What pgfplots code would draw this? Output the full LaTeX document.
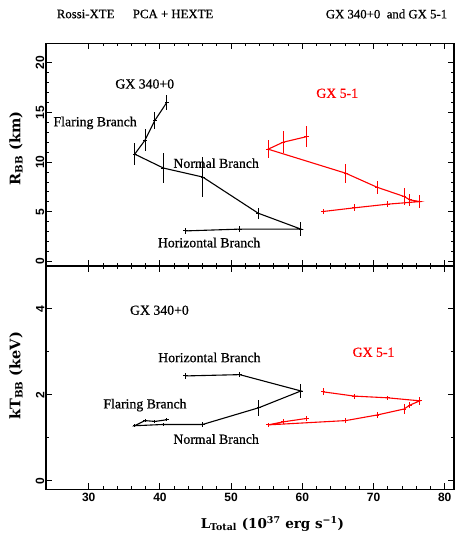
\documentclass[border=0pt]{standalone}
\usepackage{fontspec}
\setmainfont{Liberation Serif}[FakeBold=0.6]
\newfontfamily\tickfont{Liberation Sans}
\newfontfamily\axlabfont{DejaVu Serif}
\usepackage{pgfplots}
\pgfplotsset{compat=1.18}
\usepackage{pgfplotstable}

\pgfplotstableread{
x y ex ey
40.96 16.0 0.3 0.75
39.3 14.2 0.3 0.84
37.9 12.2 0.3 1.1
36.46 10.8 0.3 1.14
40.5 9.4 0.3 1.47
46.0 8.5 0.3 2.0
53.8 4.86 0.3 0.55
59.8 3.26 0.3 0.7
51.2 3.26 0.3 0.3
43.6 3.08 0.3 0.3
}\gxAup
\pgfplotstableread{
x y ex ey
60.6 12.56 0.3 1.04
57.3 12.0 0.3 1.1
55.2 11.3 0.3 0.9
66.1 8.88 0.3 0.97
70.5 7.47 0.3 0.67
74.3 6.54 0.3 0.87
75.1 6.2 0.3 0.57
76.5 6.03 0.3 0.67
72.0 5.77 0.3 0.3
67.3 5.4 0.3 0.35
62.9 5.03 0.3 0.3
}\gxBup
\pgfplotstableread{
x y ex ey
40.96 1.42 0.3 0.04
39.3 1.38 0.3 0.04
37.9 1.40 0.3 0.04
36.46 1.28 0.3 0.04
40.5 1.31 0.3 0.04
46.0 1.31 0.3 0.05
53.9 1.70 0.3 0.19
59.8 2.09 0.3 0.17
51.2 2.47 0.3 0.06
43.6 2.44 0.3 0.07
}\gxAlo
\pgfplotstableread{
x y ex ey
60.6 1.45 0.3 0.06
57.3 1.37 0.3 0.06
55.2 1.30 0.3 0.05
66.1 1.40 0.3 0.05
70.5 1.53 0.3 0.07
74.3 1.67 0.3 0.12
75.1 1.76 0.3 0.07
76.5 1.86 0.3 0.1
72.0 1.93 0.3 0.05
67.3 1.97 0.3 0.06
62.9 2.07 0.3 0.08
}\gxBlo

\pgfplotsset{
  myaxis/.style={
    scale only axis, width=408pt,
    xmin=24, xmax=81.3,
    xtick={30,40,...,80}, minor x tick num=4,
    tick align=inside,
    major tick length=6pt, minor tick length=3pt,
    axis line style={line width=1.3pt},
    tick style={line width=0.9pt, black},
    tick label style={font=\tickfont\bfseries\fontsize{12}{13}\selectfont},
    /pgf/number format/assume math mode=true,
    yticklabel style={rotate=90, anchor=south, inner sep=1.5pt},
    ylabel style={anchor=center, font=\axlabfont\bfseries\fontsize{14.5}{16}\selectfont},
  },
  eb/.style={line width=1.1pt, mark=none,
    error bars/x dir=both, error bars/x explicit,
    error bars/y dir=both, error bars/y explicit,
    error bars/error mark=none,
    error bars/error bar style={line width=0.9pt}},
}
\tikzset{lab/.style={font=\fontsize{13.8}{16}\selectfont}}

\begin{document}
\begin{tikzpicture}
\useasboundingbox (0pt,0pt) rectangle (457pt,536pt);

\node[anchor=west, font=\fontsize{12.8}{14}\selectfont] at (53.3pt,522pt) {Rossi-XTE};
\node[anchor=west, font=\fontsize{12.8}{14}\selectfont] at (129.3pt,522pt) {PCA + HEXTE};
\node[anchor=east, font=\fontsize{12.8}{14}\selectfont] at (450.7pt,522pt) {GX 340+0~~and GX 5-1};

\begin{axis}[myaxis, at={(46pt,270pt)}, anchor=south west,
  height=222.7pt, ymin=-0.45, ymax=21.95,
  ytick={0,5,10,15,20}, minor y tick num=4,
  xticklabels={},
  ylabel style={at={(axis description cs:-0.0735,0.528)}},
  ylabel={R\textsubscript{BB} (km)}]
\addplot[black, eb] table[x=x,y=y,x error=ex,y error=ey] {\gxAup};
\addplot[red, eb] table[x=x,y=y,x error=ex,y error=ey] {\gxBup};
\node[lab] at (axis cs:37.87,17.86) {GX 340+0};
\node[lab] at (axis cs:30.9,13.94) {Flaring Branch};
\node[lab] at (axis cs:47.9,9.89) {Normal Branch};
\node[lab] at (axis cs:46.9,1.91) {Horizontal Branch};
\node[lab, red] at (axis cs:64.9,16.92) {GX 5-1};
\end{axis}

\begin{axis}[myaxis, at={(46pt,270pt)}, anchor=north west,
  height=223.3pt, ymin=-0.2, ymax=5,
  ytick={0,2,4}, minor y tick num=1,
  ylabel style={at={(axis description cs:-0.0735,0.508)}},
  ylabel={kT\textsubscript{BB} (keV)},
  xlabel={L\textsubscript{Total} (10\textsuperscript{37} erg s\textsuperscript{−1})},
  xlabel style={at={(axis description cs:0.555,-0.155)}, anchor=center, font=\axlabfont\bfseries\fontsize{13.5}{15}\selectfont}]
\addplot[black, eb] table[x=x,y=y,x error=ex,y error=ey] {\gxAlo};
\addplot[red, eb] table[x=x,y=y,x error=ex,y error=ey] {\gxBlo};
\node[lab] at (axis cs:39.93,3.97) {GX 340+0};
\node[lab] at (axis cs:46.95,2.87) {Horizontal Branch};
\node[lab] at (axis cs:37.9,1.76) {Flaring Branch};
\node[lab] at (axis cs:47.9,0.97) {Normal Branch};
\node[lab, red] at (axis cs:70.0,2.99) {GX 5-1};
\end{axis}
\end{tikzpicture}
\end{document}
